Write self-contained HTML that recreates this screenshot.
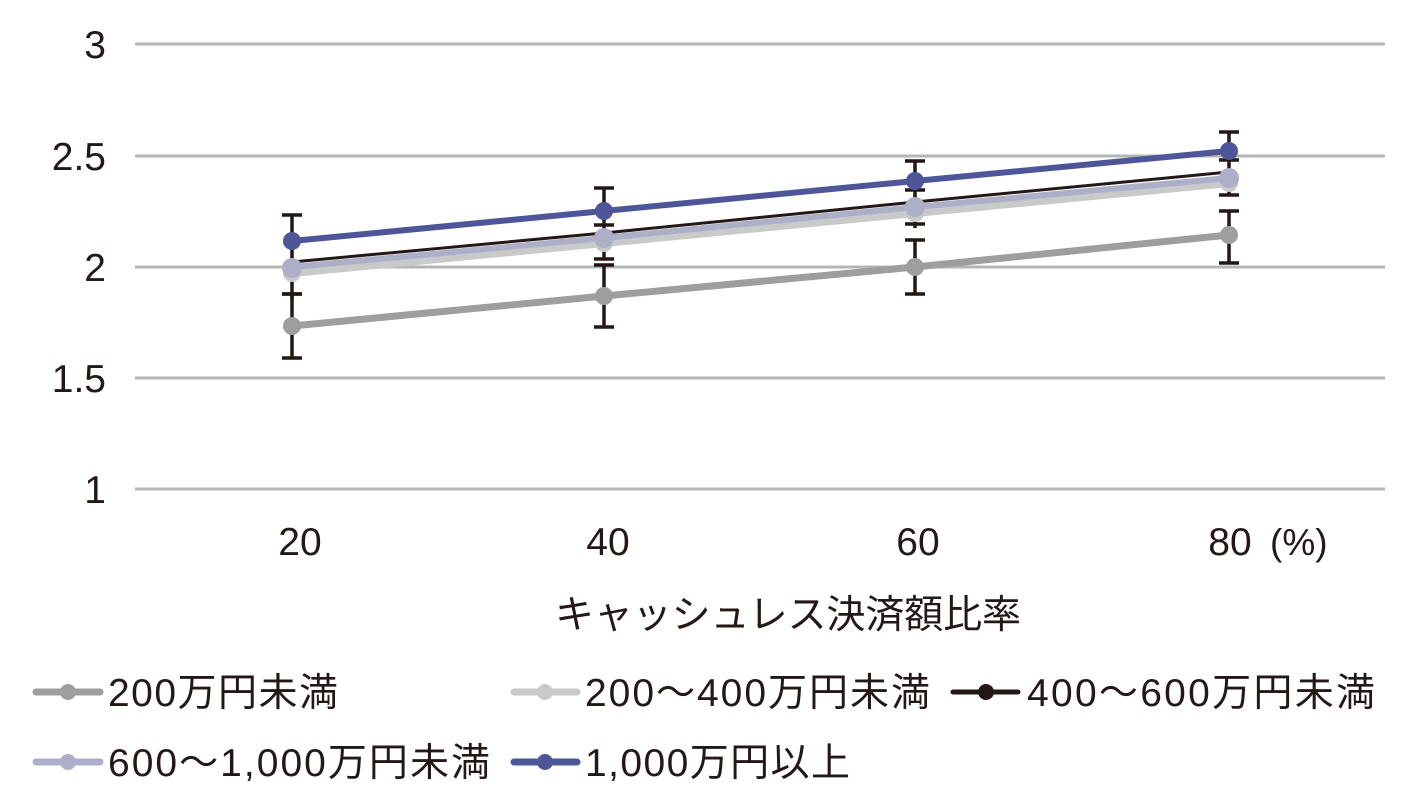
<!DOCTYPE html>
<html><head><meta charset="utf-8"><style>
html,body{margin:0;padding:0;background:#fff;}
svg{display:block;}
text{font-family:"Liberation Sans","Noto Sans CJK JP",sans-serif;fill:#231815;}
</style></head><body>
<svg width="1413" height="789" viewBox="0 0 1413 789" xmlns="http://www.w3.org/2000/svg">
<g stroke="#b5b5b5" stroke-width="3">
<line x1="135" y1="44" x2="1385" y2="44"/>
<line x1="135" y1="156" x2="1385" y2="156"/>
<line x1="135" y1="267" x2="1385" y2="267"/>
<line x1="135" y1="378" x2="1385" y2="378"/>
<line x1="135" y1="489" x2="1385" y2="489"/>
</g>
<g font-size="39" text-anchor="end">
<text x="106" y="58">3</text>
<text x="106" y="170">2.5</text>
<text x="106" y="281">2</text>
<text x="106" y="392">1.5</text>
<text x="106" y="503">1</text>
</g>
<g font-size="39" text-anchor="middle">
<text x="300" y="555">20</text>
<text x="608" y="555">40</text>
<text x="918" y="555">60</text>
<text x="1230" y="555">80</text>
</g>
<text x="1270" y="555" font-size="37">(%)</text>
<text x="788" y="628" font-size="39" text-anchor="middle" textLength="466">キャッシュレス決済額比率</text>
<g stroke="#231815" stroke-width="3.5" fill="none">
<path d="M292 294V358M282 294H302M282 358H302"/>
<path d="M604 265V327M594 265H614M594 327H614"/>
<path d="M915 240V294M905 240H925M905 294H925"/>
<path d="M1229 211V263M1219 211H1239M1219 263H1239"/>
<path d="M292 215V241M282 215H302"/>
<path d="M604 188V236M594 188H614M594 225H614"/>
<path d="M915 161V200M905 161H925M905 190H925"/>
<path d="M1229 132V170M1219 132H1239M1219 160H1239"/>
<path d="M292 241V300M282 294H302"/>
<path d="M604 236V260M594 259H614"/>
<path d="M915 200V228M905 224H925"/>
<path d="M1229 170V195M1219 195H1239"/>
</g>
<g stroke-linecap="round">
<polyline points="292,326 604,296 915,267 1229,235" fill="none" stroke="#9e9e9e" stroke-width="7"/>
<polyline points="292,273 604,243 915,213 1229,183" fill="none" stroke="#c9c9c9" stroke-width="8"/>
<polyline points="292,262 604,233 915,202 1229,172" fill="none" stroke="#231815" stroke-width="3"/>
<polyline points="292,267 604,238 915,207 1229,178" fill="none" stroke="#adafc9" stroke-width="6"/>
<polyline points="292,241 604,211 915,181 1229,151" fill="none" stroke="#4d5699" stroke-width="6"/>
</g>
<g fill="#9e9e9e"><circle cx="292" cy="326" r="9"/><circle cx="604" cy="296" r="9"/><circle cx="915" cy="267" r="9"/><circle cx="1229" cy="235" r="9"/></g>
<g fill="#c9c9c9"><circle cx="292" cy="273" r="9"/><circle cx="604" cy="243" r="9"/><circle cx="915" cy="213" r="9"/><circle cx="1229" cy="183" r="9"/></g>
<g fill="#adafc9"><circle cx="292" cy="268" r="10"/><circle cx="604" cy="238" r="10"/><circle cx="915" cy="207" r="10"/><circle cx="1229" cy="178" r="10"/></g>
<g fill="#4d5699"><circle cx="292" cy="241" r="9"/><circle cx="604" cy="211" r="9"/><circle cx="915" cy="181" r="9"/><circle cx="1229" cy="151" r="9"/></g>
<g stroke-width="7" stroke-linecap="round">
<line x1="36" y1="692" x2="100" y2="692" stroke="#9e9e9e"/><circle cx="68" cy="692" r="8" fill="#9e9e9e"/>
<line x1="514" y1="692" x2="577" y2="692" stroke="#c9c9c9"/><circle cx="545" cy="692" r="8" fill="#c9c9c9"/>
<line x1="953" y1="692" x2="1018" y2="692" stroke="#231815" stroke-width="5"/><circle cx="986" cy="692" r="8" fill="#231815"/>
<line x1="36" y1="762" x2="100" y2="762" stroke="#adafc9"/><circle cx="68" cy="762" r="8" fill="#adafc9"/>
<line x1="514" y1="762" x2="577" y2="762" stroke="#4d5699"/><circle cx="545" cy="762" r="8" fill="#4d5699"/>
</g>
<g font-size="39">
<text x="108" y="706" textLength="230">200万円未満</text>
<text x="585" y="706" textLength="345">200～400万円未満</text>
<text x="1027" y="706" textLength="348">400～600万円未満</text>
<text x="108" y="776" textLength="382">600～1,000万円未満</text>
<text x="585" y="776" textLength="265">1,000万円以上</text>
</g>
</svg>
</body></html>
